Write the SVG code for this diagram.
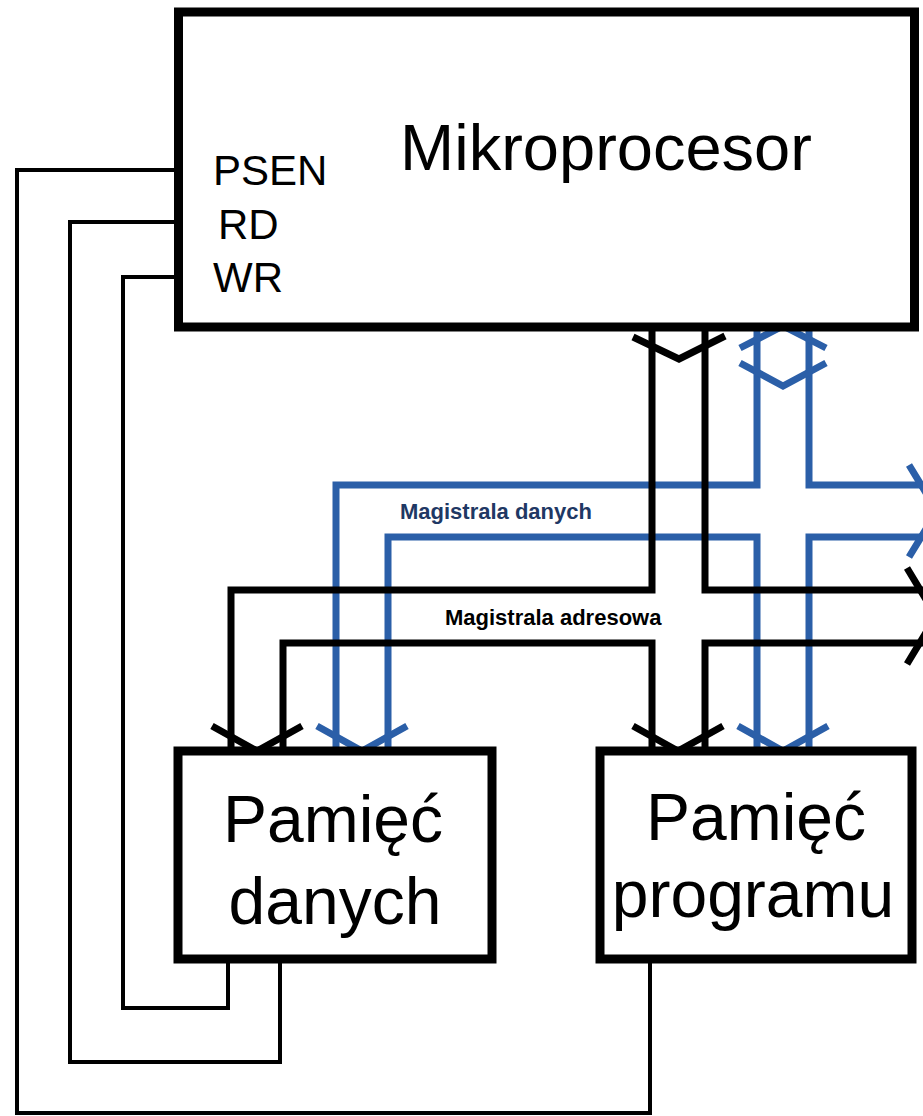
<svg xmlns="http://www.w3.org/2000/svg" width="923" height="1116" viewBox="0 0 923 1116">
  <style>
    .box { fill: #ffffff; stroke: #000000; stroke-width: 9; }
    .big { font-family: "Liberation Sans", Arial, sans-serif; fill: #000000; }
    .bus-k { fill: none; stroke: #000000; stroke-width: 7; stroke-linejoin: miter; }
    .bus-b { fill: none; stroke: #2B5FA8; stroke-width: 7; stroke-linejoin: miter; }
    .ctl { fill: none; stroke: #000000; stroke-width: 4; }
    .lbl { font-family: "Liberation Sans", Arial, sans-serif; font-weight: bold; font-size: 22px; }
  </style>
  <rect width="923" height="1116" fill="#ffffff"/>
  <g id="connectors">
    <g id="control-lines">
      <path class="ctl" d="M178,170 H17 V1113 H650 V959"/>
      <path class="ctl" d="M178,222 H70 V1062 H280 V959"/>
      <path class="ctl" d="M178,277 H123 V1008 H228 V959"/>
    </g>
    <g id="data-bus">
      <path class="bus-b" d="M757,327 V485 H336 V751"/>
      <path class="bus-b" d="M388,751 V537 H757 V751"/>
      <path class="bus-b" d="M809,327 V485 H930"/>
      <path class="bus-b" d="M930,537 H809 V751"/>
      <polyline class="bus-b" points="740,348 783,326 826,348"/>
      <polyline class="bus-b" points="740,363 783,386 826,363"/>
      <polyline class="bus-b" points="317,726 362,751 407,726"/>
      <polyline class="bus-b" points="738,726 783,751 828,726"/>
      <polyline class="bus-b" points="909,465 937,511 909,557"/>
      <text class="lbl" x="400" y="519" fill="#1F3864">Magistrala danych</text>
    </g>
    <g id="address-bus">
      <path class="bus-k" d="M652,327 V590 H231 V751"/>
      <path class="bus-k" d="M283,751 V643 H652 V751"/>
      <path class="bus-k" d="M705,327 V590 H930"/>
      <path class="bus-k" d="M930,643 H705 V751"/>
      <polyline class="bus-k" points="633,337 679,359 725,336"/>
      <polyline class="bus-k" points="212,726 257,751 302,726"/>
      <polyline class="bus-k" points="633,726 678,751 723,726"/>
      <polyline class="bus-k" points="907,568 936,616 907,664"/>
      <text class="lbl" x="445" y="625" fill="#000000">Magistrala adresowa</text>
    </g>
  </g>
  <g id="microprocessor">
    <rect class="box" x="178.5" y="12" width="736" height="315"/>
    <text class="big" x="606" y="170" font-size="65" text-anchor="middle">Mikroprocesor</text>
    <text class="big" x="213" y="185" font-size="42">PSEN</text>
    <text class="big" x="218" y="239" font-size="42">RD</text>
    <text class="big" x="213" y="292" font-size="42">WR</text>
  </g>
  <g id="data-memory">
    <rect class="box" x="178" y="751" width="314" height="208"/>
    <text class="big" x="333" y="842" font-size="66" text-anchor="middle">Pamięć</text>
    <text class="big" x="335" y="924" font-size="66" text-anchor="middle">danych</text>
  </g>
  <g id="program-memory">
    <rect class="box" x="600" y="751" width="312" height="208"/>
    <text class="big" x="756" y="840" font-size="66" text-anchor="middle">Pamięć</text>
    <text class="big" x="753" y="917" font-size="66" text-anchor="middle">programu</text>
  </g>
</svg>
